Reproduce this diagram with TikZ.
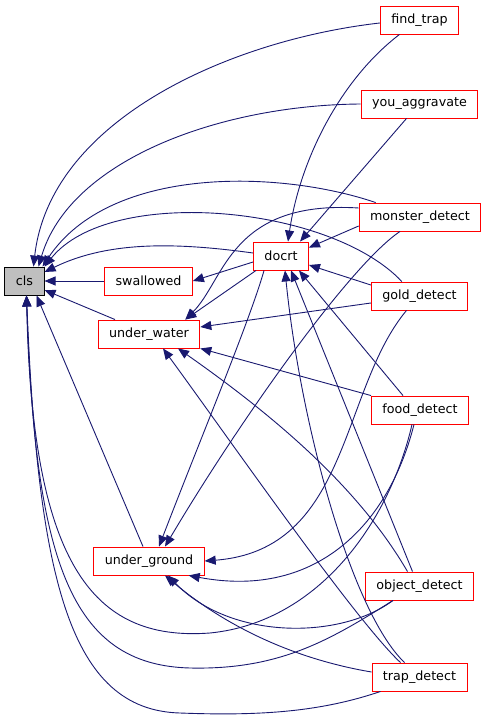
\documentclass[tikz,border=0pt]{standalone}
\usepackage{fontspec}
\setmainfont{DejaVu Sans}
\usetikzlibrary{arrows.meta,calc}
\definecolor{edgeblue}{HTML}{191970}
\definecolor{boxred}{HTML}{FF0000}
\definecolor{rootgray}{HTML}{BFBFBF}
\begin{document}
\begin{tikzpicture}[x=1pt,y=-1pt,
    fn/.style={draw=boxred,fill=white,line width=0.9pt,minimum height=28pt,
        inner xsep=11pt,inner ysep=0pt,font=\fontsize{12.7}{15}\selectfont},
    root/.style={fn,draw=black,fill=rootgray},
    call/.style={draw=edgeblue,line width=0.9pt,-{Triangle[length=11pt,width=9pt]}}]
    \useasboundingbox (0,0) rectangle (488,722);

    % Draw functions
    \node[root] (cls) at (24.5,281) {cls};
    \node[fn] (swallowed) at (148.5,281) {swallowed};
    \node[fn] (under_water) at (149,334) {under\_water};
    \node[fn] (under_ground) at (149,561) {under\_ground};
    \node[fn] (docrt) at (281,256) {docrt};
    \node[fn] (find_trap) at (419.5,20) {find\_trap};
    \node[fn] (you_aggravate) at (419.5,104) {you\_aggravate};
    \node[fn] (monster_detect) at (420,217) {monster\_detect};
    \node[fn] (gold_detect) at (419.5,296) {gold\_detect};
    \node[fn] (food_detect) at (420,410) {food\_detect};
    \node[fn] (object_detect) at (419.5,586) {object\_detect};
    \node[fn] (trap_detect) at (419.5,677) {trap\_detect};

    % Calls into cls from the first column
    \draw[call] (swallowed.west) -- (cls.east);
    \draw[call] ($(under_water.north)+(-34,0)$) -- ($(cls.east)+(0,9)$);
    \draw[call] ($(under_ground.north)+(-6,0)$) -- ($(cls.south)+(12,0)$);

    % Calls from docrt
    \draw[call] ($(docrt.west)+(0,-3)$) .. controls (180,243) and (110,240) .. ($(cls.east)+(0,-9)$);
    \draw[call] ($(docrt.west)+(0,6)$) -- (swallowed.east);
    \draw[call] ($(docrt.south west)+(3,0)$) -- ($(under_water.north east)+(-15,0)$);
    \draw[call] ($(docrt.south west)+(11,0)$) .. controls (250,320) and (200,440) .. ($(under_ground.north)+(10,0)$);

    % Calls from find_trap and you_aggravate
    \draw[call] ($(find_trap.west)+(0,3)$) .. controls (230,40) and (50,120) .. ($(cls.north)+(9,0)$);
    \draw[call] ($(find_trap.south)+(-20,0)$) .. controls (340,80) and (300,160) .. ($(docrt.north)+(7,0)$);
    \draw[call] (you_aggravate.west) .. controls (220,105) and (70,160) .. ($(cls.north)+(14,0)$);
    \draw[call] ($(you_aggravate.south)+(-13,0)$) -- ($(docrt.north)+(19,0)$);

    % Calls from monster_detect
    \draw[call] ($(monster_detect.north west)+(17,0)$) .. controls (280,170) and (110,165) .. ($(cls.north)+(18,0)$);
    \draw[call] ($(monster_detect.west)+(0,9)$) -- ($(docrt.north east)+(0,6)$);
    \draw[call] ($(monster_detect.west)+(0,-9)$) .. controls (230,200) and (225,280) .. ($(under_water.north east)+(-15,0)$);
    \draw[call] ($(monster_detect.south)+(-20,0)$) .. controls (350,265) and (240,420) .. ($(under_ground.north)+(16,0)$);

    % Calls from gold_detect
    \draw[call] ($(gold_detect.north west)+(31,0)$) .. controls (330,205) and (110,185) .. (cls.north east);
    \draw[call] ($(gold_detect.west)+(0,-11)$) -- ($(docrt.east)+(0,9)$);
    \draw[call] ($(gold_detect.west)+(0,7)$) -- ($(under_water.east)+(0,-7)$);
    \draw[call] ($(gold_detect.south)+(-13,0)$) .. controls (340,390) and (350,550) .. (under_ground.east);

    % Calls from food_detect
    \draw[call] ($(food_detect.north)+(-17,0)$) -- ($(docrt.south east)+(-10,0)$);
    \draw[call] (food_detect.north west) -- (under_water.south east);
    \draw[call] ($(food_detect.south)+(-6,0)$) .. controls (390,520) and (320,600) .. ($(under_ground.south east)+(-16,0)$);
    \draw[call] ($(food_detect.south)+(-8,0)$) .. controls (390,520) and (320,622) .. (210,633)
        .. controls (90,642) and (32,560) .. ($(cls.south)+(2,0)$);

    % Calls from object_detect
    \draw[call] ($(object_detect.north)+(-7,0)$) -- ($(docrt.south)+(10,0)$);
    \draw[call] ($(object_detect.north)+(-12,0)$) .. controls (360,490) and (280,420) .. ($(under_water.south)+(29,0)$);
    \draw[call] ($(object_detect.south west)+(28,0)$) .. controls (340,640) and (230,640) .. ($(under_ground.south)+(19,0)$);
    \draw[call] ($(object_detect.south west)+(28,0)$) .. controls (330,640) and (280,670) .. (190,668)
        .. controls (70,665) and (35,560) .. ($(cls.south)+(2,0)$);

    % Calls from trap_detect
    \draw[call] ($(trap_detect.north)+(-15,0)$) .. controls (350,610) and (300,420) .. ($(docrt.south)+(4,0)$);
    \draw[call] ($(trap_detect.north)+(-19,0)$) .. controls (355,620) and (230,440) .. ($(under_water.south)+(14,0)$);
    \draw[call] ($(trap_detect.west)+(0,-5)$) .. controls (300,660) and (230,630) .. ($(under_ground.south)+(16,0)$);
    \draw[call] ($(trap_detect.south west)+(9,0)$) .. controls (320,712) and (260,716) .. (180,713)
        .. controls (70,710) and (38,580) .. ($(cls.south)+(2,0)$);
\end{tikzpicture}
\end{document}
